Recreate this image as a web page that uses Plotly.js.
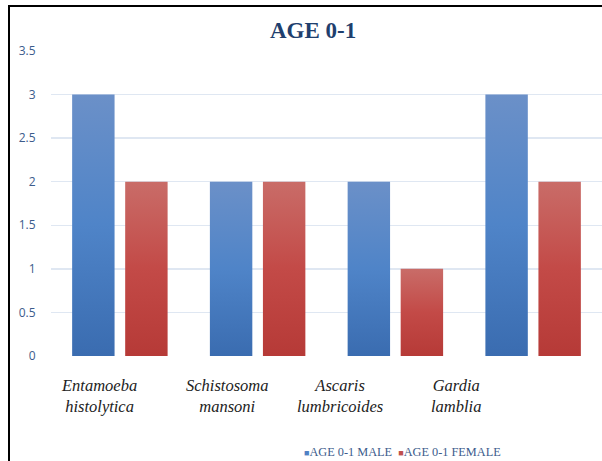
<!DOCTYPE html>
<html>
<head>
<meta charset="utf-8">
<script src="https://cdn.plot.ly/plotly-3.0.1.min.js"></script>
<style>
  html, body { margin: 0; padding: 0; background: #fff; }
  #wrap { position: relative; width: 602px; height: 461px; }
  #chart { width: 602px; height: 461px; }
  #frame { position: absolute; left: 8px; top: 5px; right: 0; bottom: 0;
           border-top: 2px solid #000; border-left: 2px solid #000; pointer-events: none; }
</style>
</head>
<body>
<div id="wrap">
  <div id="chart"></div>
  <div id="frame"></div>
</div>
<script>
// Parasite counts, age group 0-1
const categories = ["Entamoeba<br>histolytica", "Schistosoma<br>mansoni", "Ascaris<br>lumbricoides", "Gardia<br>lamblia"];
const maleValues = [3, 2, 2, 3];
const femaleValues = [2, 2, 1, 2];
const seriesNames = ["AGE 0-1 MALE", "AGE 0-1 FEMALE"];
const seriesColors = ['#4f81c4', '#c0504d'];
const yTicks = [0, 0.5, 1, 1.5, 2, 2.5, 3, 3.5];

const SERIF = '"Liberation Serif", "Times New Roman", serif';
const idx = categories.map((_, i) => i);
// horizontal nudges of the category captions
const labelShift = [-21, -30, -55, -77];

const traces = [0, 1].map(k => ({
  type: 'bar', x: idx, y: k === 0 ? maleValues : femaleValues, name: seriesNames[k],
  marker: { color: seriesColors[k] }, hoverinfo: 'none', showlegend: false
}));

const annotations = categories.map((c, i) => ({
  x: i, y: 0, xref: 'x', yref: 'y', yanchor: 'top', xanchor: 'center',
  yshift: -18, xshift: labelShift[i], align: 'center', showarrow: false,
  text: '<i>' + c + '</i>',
  font: { family: SERIF, size: 16.5, color: '#222', style: 'italic' }
}));

// compact legend line under the chart
annotations.push({
  x: 1, xref: 'paper', xanchor: 'right', xshift: -99,
  y: 0, yref: 'paper', yanchor: 'middle', yshift: -96,
  showarrow: false, align: 'left',
  text: seriesNames.map((n, k) =>
    '<span style="color:' + seriesColors[k] + ';font-size:9px">■</span>' + n).join('  '),
  font: { family: SERIF, size: 12.3, color: '#3c5c8c' }
});

const layout = {
  width: 602, height: 461,
  margin: { l: 51, r: 0, t: 51, b: 105 },
  paper_bgcolor: '#fff', plot_bgcolor: '#fff',
  title: { text: '<b>AGE 0-1</b>', x: 0.52, xanchor: 'center', y: 0.935, yanchor: 'middle',
           font: { family: SERIF, size: 23, color: '#1f3f6e' } },
  barmode: 'group', bargap: 0.23, bargroupgap: 0.2,
  xaxis: { range: [-0.5, 3.5], showticklabels: false, showgrid: false, zeroline: false,
           ticks: '', fixedrange: true },
  yaxis: { range: [0, 3.5], tickvals: yTicks, ticktext: yTicks.map(String),
           showgrid: true, gridcolor: '#dfe7f2', gridwidth: 1.5, zeroline: false,
           ticks: 'outside', ticklen: 12, tickcolor: 'rgba(0,0,0,0)',
           tickfont: { family: 'Open Sans', size: 12, color: '#3c5c8c' },
           fixedrange: true },
  showlegend: false,
  annotations: annotations
};

Plotly.newPlot('chart', traces, layout, { displayModeBar: false, staticPlot: true }).then(gd => {
  // vertical shading on each bar
  const svg = gd.querySelector('svg.main-svg');
  const ns = 'http://www.w3.org/2000/svg';
  const defs = document.createElementNS(ns, 'defs');
  const grads = [
    ['gMale', '#6b90c8', '#4f84c8', '#3a6cb0'],
    ['gFemale', '#c96c68', '#c34a47', '#b63a37']
  ];
  grads.forEach(([id, a, b, c]) => {
    const g = document.createElementNS(ns, 'linearGradient');
    g.setAttribute('id', id);
    g.setAttribute('x1', '0'); g.setAttribute('y1', '0');
    g.setAttribute('x2', '0'); g.setAttribute('y2', '1');
    [[0, a], [0.5, b], [1, c]].forEach(([o, col]) => {
      const s = document.createElementNS(ns, 'stop');
      s.setAttribute('offset', o); s.setAttribute('stop-color', col);
      g.appendChild(s);
    });
    defs.appendChild(g);
  });
  svg.insertBefore(defs, svg.firstChild);
  gd.querySelectorAll('.barlayer .trace.bars').forEach((t, i) => {
    t.querySelectorAll('path').forEach(p => {
      p.style.fill = 'url(#' + grads[i][0] + ')';
    });
  });
});
</script>
</body>
</html>
